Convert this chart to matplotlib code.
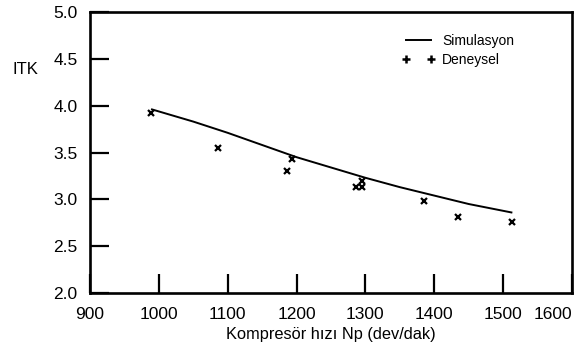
import matplotlib
matplotlib.use("Agg")
import matplotlib.pyplot as plt
from matplotlib.lines import Line2D

plt.rcParams['font.family'] = ['Liberation Sans', 'DejaVu Sans']

# Simulation curve
sim_x = [990, 1050, 1100, 1150, 1200, 1250, 1300, 1350, 1400, 1450, 1512]
sim_y = [3.96, 3.83, 3.71, 3.58, 3.45, 3.34, 3.23, 3.13, 3.04, 2.95, 2.86]

# Experimental points
exp_x = [988, 1086, 1186, 1194, 1287, 1295, 1295, 1385, 1434, 1513]
exp_y = [3.92, 3.55, 3.30, 3.43, 3.13, 3.13, 3.20, 2.98, 2.81, 2.76]

xticks = [900, 1000, 1100, 1200, 1300, 1400, 1500, 1600]
yticks = [2.0, 2.5, 3.0, 3.5, 4.0, 4.5, 5.0]

fig = plt.figure(figsize=(5.85, 3.46), dpi=100)
ax = fig.add_axes([90/585, 1-293/346, (572-90)/585, (293-12)/346])

ax.plot(sim_x, sim_y, color='black', lw=1.4)
ax.plot(exp_x, exp_y, linestyle='none', marker='x', color='black', ms=4.5, mew=1.6)

ax.set_xlim(900, 1600)
ax.set_ylim(2.0, 5.0)
ax.set_xticks(xticks)
ax.set_yticks(yticks)
ax.set_xticklabels([str(v) for v in xticks])
ax.set_yticklabels([f"{v:.1f}" for v in yticks])
ax.tick_params(direction='in', length=14, width=1.6, labelsize=12.5, colors='black')
ax.tick_params(axis='x', pad=10)
ax.tick_params(axis='y', pad=9)
ax.get_xticklabels()[-1].set_horizontalalignment('right')
for s in ax.spines.values():
    s.set_linewidth(1.9)

ax.set_xlabel('Kompresör hızı Np (dev/dak)', fontsize=11.8, labelpad=4)
ax.set_ylabel('ITK', rotation=0, fontsize=12)
ax.yaxis.set_label_coords(-0.133, 0.767)

handles = [Line2D([], [], color='black', lw=1.4),
           Line2D([], [], color='black', linestyle='none', marker='+', ms=6, mew=1.8)]
leg = ax.legend(handles, ['Simulasyon', 'Deneysel'], loc='upper left',
                bbox_to_anchor=(0.62, 0.965), frameon=False, fontsize=10,
                numpoints=2, handlelength=2.4, handletextpad=0.55, labelspacing=0.35)

fig.savefig('out.png', dpi=100)
